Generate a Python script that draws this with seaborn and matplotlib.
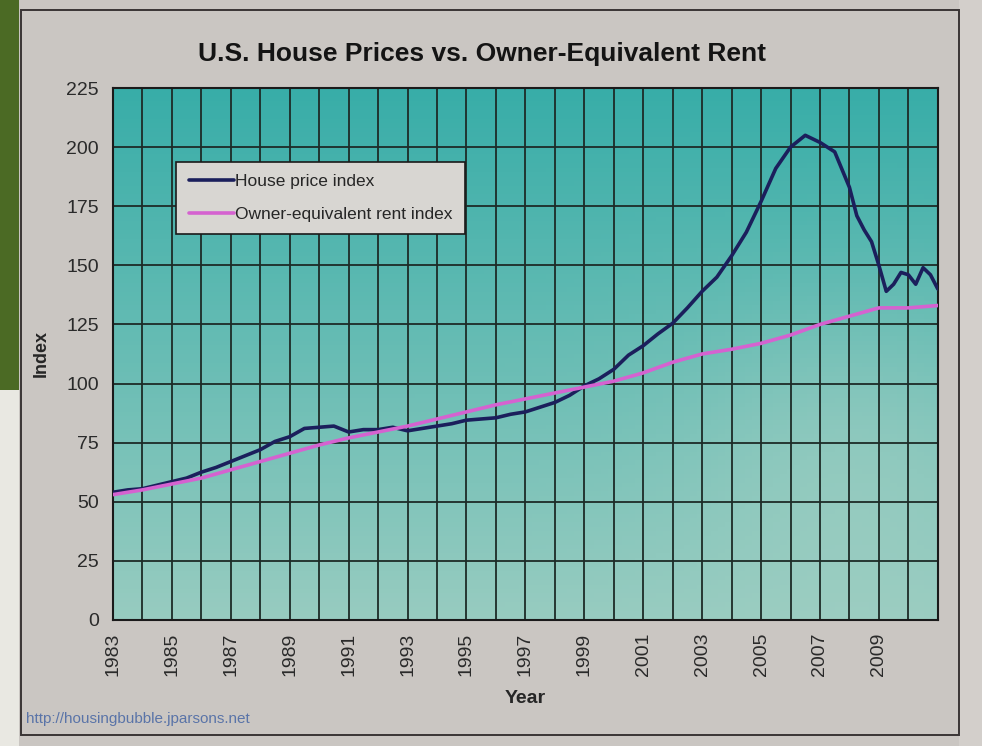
import matplotlib.pyplot as plt
import seaborn as sns
import pandas as pd
import numpy as np
from matplotlib.patches import Rectangle
from matplotlib.ticker import MultipleLocator

# House price index: half-year readings to 2008, quarterly after that
hpi_years = list(np.arange(1983, 2008.01, 0.5)) + [2008.25, 2008.5, 2008.75, 2009, 2009.25, 2009.5,
                                                   2009.75, 2010, 2010.25, 2010.5, 2010.75, 2011]
hpi_values = [54, 55, 55.5, 57, 58.5, 60, 62.5, 64.5, 67, 69.5,
              72, 75.5, 77.5, 81, 81.5, 82, 79.5, 80.5, 80.5, 81.5,
              80, 81, 82, 83, 84.5, 85, 85.5, 87, 88, 90,
              92, 95, 99, 102, 106, 112, 116, 121, 125.5, 132,
              139, 145, 154, 164, 177, 191, 200, 205, 202, 198,
              183, 171, 165, 160, 150, 139, 142, 147, 146, 142, 149, 146, 140]

# Owner-equivalent rent index: yearly readings
rent_years = list(range(1983, 2012))
rent_values = [53, 55, 57.5, 60, 63.5, 67, 70.5, 74, 77, 79.5,
               82, 85, 88, 91, 93.5, 96, 98.5, 101, 104.5, 109,
               112.5, 114.5, 117, 120.5, 125, 128.5, 132, 132, 133]

series_names = ['House price index', 'Owner-equivalent rent index']
series_colors = ['#1b1f5c', '#d562d0']

df = pd.concat([
    pd.DataFrame({'Year': hpi_years, 'Index': hpi_values, 'Series': series_names[0]}),
    pd.DataFrame({'Year': rent_years, 'Index': rent_values, 'Series': series_names[1]}),
])

sns.set_style('white')
plt.rcParams['font.family'] = ['Liberation Sans', 'DejaVu Sans']

fig = plt.figure(figsize=(9.82, 7.46), dpi=100, facecolor='#cac6c2')

# photo edges around the monitor
fig.patches.append(Rectangle((0, 0.477), 0.019, 0.523, transform=fig.transFigure,
                             facecolor='#4b6a24', edgecolor='none', zorder=0))
fig.patches.append(Rectangle((0, 0), 0.019, 0.477, transform=fig.transFigure,
                             facecolor='#e9e8e2', edgecolor='none', zorder=0))
fig.patches.append(Rectangle((0.977, 0), 0.023, 1, transform=fig.transFigure,
                             facecolor='#d3cfcb', edgecolor='none', zorder=0))
# chart frame
fig.patches.append(Rectangle((0.021, 0.015), 0.956, 0.972, transform=fig.transFigure,
                             facecolor='none', edgecolor='#3a3535', linewidth=1.4, zorder=1))

ax = fig.add_axes([0.115, 0.169, 0.840, 0.713])

# teal gradient fill of the plot area (row 0 = top)
ny, nx = 120, 120
gy = np.linspace(0, 1, ny)[:, None]
gx = np.linspace(0, 1, nx)[None, :]
top = np.array([0.22, 0.68, 0.66])
bottom = np.array([0.66, 0.82, 0.77])
t = gy * 0.85 + 0.2 * np.exp(-((gx - 0.9) ** 2) / 0.04 - ((gy - 0.65) ** 2) / 0.08)
t = np.clip(t, 0, 1)
grad = top[None, None, :] * (1 - t[..., None]) + bottom[None, None, :] * t[..., None]
ax.imshow(grad, extent=[0, 1, 0, 1], transform=ax.transAxes, aspect='auto', zorder=0)

sns.lineplot(data=df, x='Year', y='Index', hue='Series', palette=series_colors,
             linewidth=2.6, ax=ax, zorder=3)

ax.set_xlim(1983, 2011)
ax.set_ylim(0, 225)
ax.xaxis.set_minor_locator(MultipleLocator(1))
ax.yaxis.set_major_locator(MultipleLocator(25))
ax.set_xticks(range(1983, 2010, 2))
ax.set_xticklabels([str(y) for y in range(1983, 2010, 2)], rotation=90, fontsize=14, color='#2a2a2a')
ax.tick_params(axis='y', labelsize=14, labelcolor='#2a2a2a', length=6, width=1.2, direction='out', pad=4)
ax.tick_params(axis='x', which='major', length=6, width=1.2, direction='out', pad=3)
ax.tick_params(axis='x', which='minor', length=0)
ax.grid(True, which='both', color='#1d2b27', linewidth=1.3, zorder=1)
ax.set_axisbelow(True)
for s in ax.spines.values():
    s.set_color('#1a1a1a')
    s.set_linewidth(1.5)

ax.set_xlabel('Year', fontsize=14, fontweight='bold', labelpad=10)
ax.set_ylabel('Index', fontsize=13, fontweight='bold', labelpad=12)

fig.text(0.491, 0.928, 'U.S. House Prices vs. Owner-Equivalent Rent', fontsize=19,
         fontweight='bold', color='#141414', ha='center', va='center')

leg = ax.legend(loc='upper left', bbox_to_anchor=(0.077, 0.861), borderaxespad=0,
                fontsize=12.5, frameon=True, fancybox=False, framealpha=1,
                handlelength=2.6, handletextpad=0.1, borderpad=0.7, labelspacing=1.0)
leg.get_frame().set_facecolor('#d8d6d2')
leg.get_frame().set_edgecolor('#1a1a1a')
leg.get_frame().set_linewidth(1.2)
leg.set_title(None)

fig.text(0.026, 0.031, 'http://housingbubble.jparsons.net', fontsize=11, color='#5a74a8')

plt.savefig('out.png', dpi=100, facecolor=fig.get_facecolor())
plt.close()
